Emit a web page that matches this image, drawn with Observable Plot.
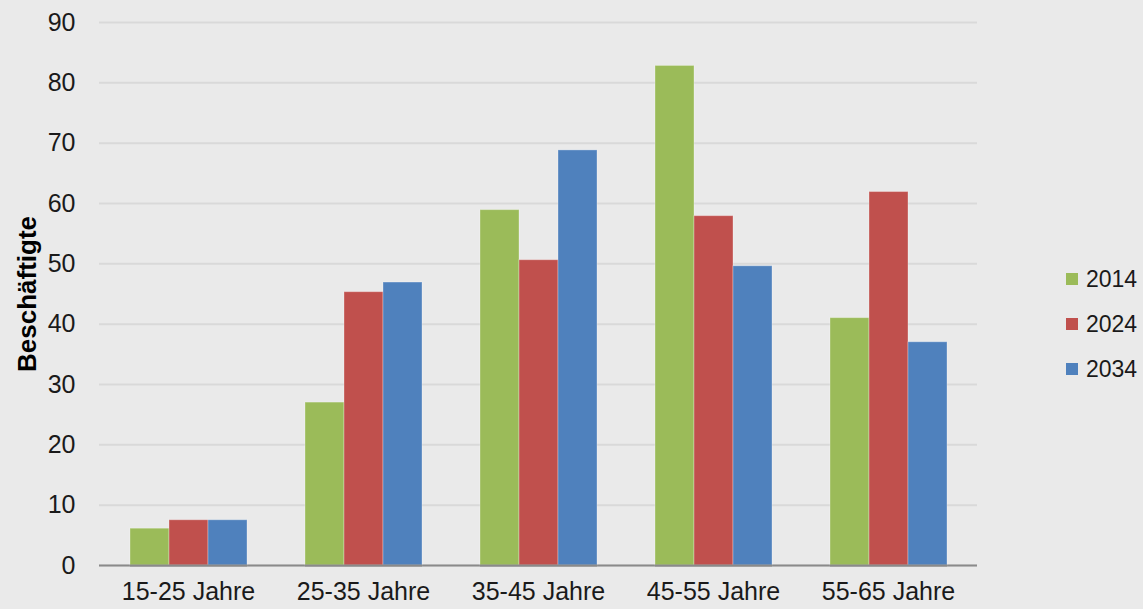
<!DOCTYPE html>
<html>
<head>
<meta charset="utf-8">
<script src="https://cdn.jsdelivr.net/npm/d3@7"></script>
<script src="https://cdn.jsdelivr.net/npm/@observablehq/plot@0.6"></script>
<style>
  html, body { margin: 0; padding: 0; background: #eaeaea; }
  #wrap { position: relative; width: 1143px; height: 609px; background: #eaeaea; font-family: "Liberation Sans", Arial, sans-serif; overflow: hidden; }
  .layer { position: absolute; left: 0; top: 0; }
  #legend { position: absolute; left: 1066px; top: 265px; display: flex; flex-direction: column; gap: 17px; }
  .item { display: flex; align-items: center; font-size: 23px; color: #1a1a1a; height: 28px; }
  .sw { width: 12px; height: 12px; margin-right: 8px; }
</style>
</head>
<body>
<div id="wrap"><div id="base" class="layer"></div><div id="bars" class="layer"></div><div id="legend"></div></div>
<script>
const categories = ["15-25 Jahre", "25-35 Jahre", "35-45 Jahre", "45-55 Jahre", "55-65 Jahre"];
const years = ["2014", "2024", "2034"];
const values2014 = [6.1, 27.0, 58.9, 82.8, 41.0];
const values2024 = [7.5, 45.3, 50.6, 57.9, 61.9];
const values2034 = [7.5, 46.9, 68.8, 49.6, 37.0];
const yTicks = [0, 10, 20, 30, 40, 50, 60, 70, 80, 90];
const colors = ["#9bbb59", "#c0504d", "#4f81bd"];

const series = [values2014, values2024, values2034];
const data = [];
categories.forEach((c, i) => years.forEach((yr, j) => data.push({category: c, year: yr, value: series[j][i]})));

const common = {
  width: 1143,
  height: 609,
  marginLeft: 99,
  marginRight: 166,
  marginTop: 22,
  marginBottom: 44,
  y: {domain: [0, 90], axis: null}
};
const font = "'Liberation Sans', Arial, sans-serif";

// Base layer: grid, axes, labels
const base = Plot.plot({
  ...common,
  style: {background: "#eaeaea", fontFamily: font, fontSize: "25px", color: "#1a1a1a"},
  x: {domain: categories, paddingInner: 0.333, paddingOuter: 0.1667, axis: null},
  marks: [
    Plot.ruleY(yTicks, {y: d => d, stroke: "#d9d9d9", strokeWidth: 2}),
    Plot.ruleY([0], {stroke: "#8a8a8a", strokeWidth: 2}),
    Plot.axisY(yTicks, {anchor: "left", tickSize: 0, tickPadding: 24, fontSize: 25, label: null}),
    Plot.axisX({anchor: "bottom", tickSize: 0, tickPadding: 17, fontSize: 25, label: null}),
    Plot.text(["Beschäftigte"], {frameAnchor: "left", textAnchor: "middle", dx: -72, rotate: -90, text: d => d, fontWeight: "bold", fontSize: 26, fill: "#000"})
  ]
});
document.getElementById("base").appendChild(base);

// Bars layer: grouped bars via fx faceting
const bars = Plot.plot({
  ...common,
  style: {background: "transparent", fontFamily: font},
  fx: {domain: categories, paddingInner: 0.333, paddingOuter: 0.1667, axis: null, label: null},
  x: {domain: years, padding: 0, axis: null},
  color: {domain: years, range: colors},
  marks: [
    Plot.barY(data, {fx: "category", x: "year", y: "value", fill: "year", stroke: "#ffffff", strokeOpacity: 0.3, strokeWidth: 1}),
    Plot.ruleY([0], {stroke: "#8a8a8a", strokeWidth: 2})
  ]
});
document.getElementById("bars").appendChild(bars);

const legend = document.getElementById("legend");
years.forEach((yr, j) => {
  const it = document.createElement("div");
  it.className = "item";
  it.innerHTML = `<span class="sw" style="background:${colors[j]}"></span><span>${yr}</span>`;
  legend.appendChild(it);
});
</script>
</body>
</html>
